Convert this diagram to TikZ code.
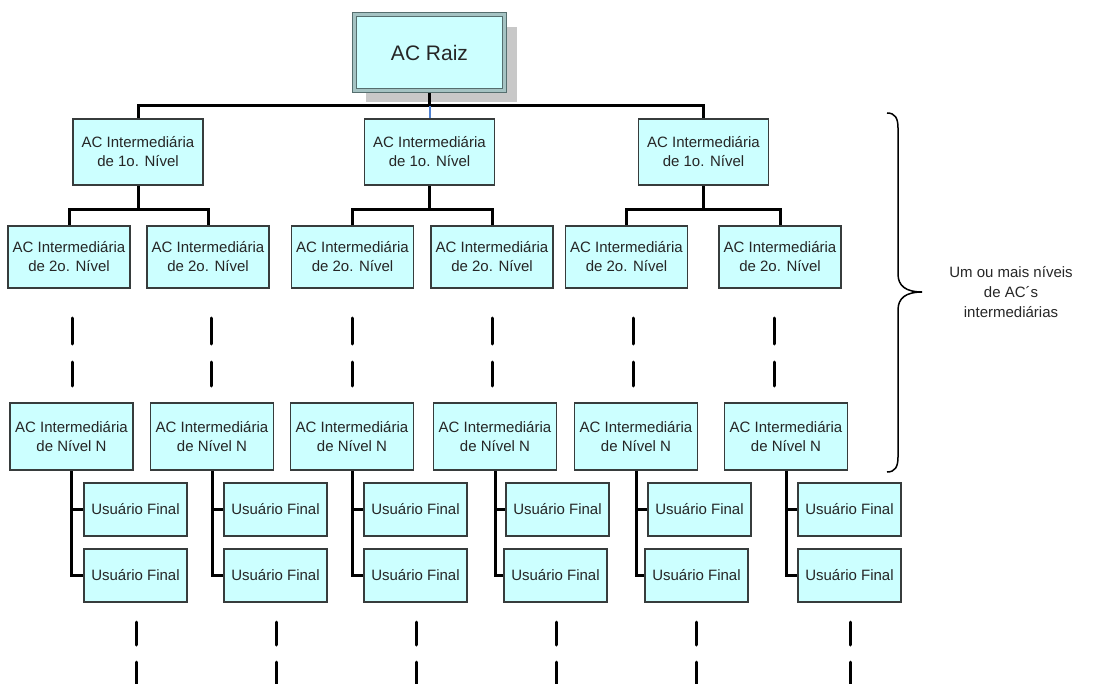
\documentclass[tikz,border=0pt]{standalone}
\usepackage{fontspec}
\setmainfont{Liberation Sans}
\usepackage{tikz}
\pgfdeclarelayer{bg}
\pgfsetlayers{bg,main}
\definecolor{boxfill}{RGB}{204,255,255}
\definecolor{boxline}{RGB}{55,60,60}
\definecolor{rootline}{RGB}{85,110,110}
\definecolor{rootgap}{RGB}{165,195,195}
\definecolor{shadowgray}{RGB}{200,200,200}
\definecolor{bluelink}{RGB}{80,130,210}
\tikzset{
    acbox/.style={rectangle, draw=boxline, fill=boxfill, line width=1.4pt, inner sep=0pt,
        align=center, text=black!85, font=\fontsize{15}{19}\selectfont},
    rootbox/.style={acbox, draw=rootline, double=rootgap, double distance=2.4pt, line width=1.2pt,
        minimum width=150pt, minimum height=76pt, font=\fontsize{21}{25}\selectfont},
    firstbox/.style={acbox, minimum width=130pt, minimum height=66pt},
    secondbox/.style={acbox, minimum width=122pt, minimum height=62pt},
    lastbox/.style={acbox, minimum width=123pt, minimum height=67pt},
    userbox/.style={acbox, minimum width=103pt, minimum height=53pt},
    link/.style={line width=3pt},
    gapline/.style={line width=3pt, line cap=round}
}

\begin{document}
\begin{tikzpicture}[x=1pt, y=-1pt]
        \useasboundingbox (0,0) rectangle (1099,684);
        % root
        \node (root) [rootbox] at (429.5, 52.5) {AC Raiz};
        \coordinate (bus) at (429.5, 106);
        % first level
        \node (a1) [firstbox] at (138, 152) {AC Intermediária\\de 1o. Nível};
        \node (a2) [firstbox] at (429.5, 152) {AC Intermediária\\de 1o. Nível};
        \node (a3) [firstbox] at (703.5, 152) {AC Intermediária\\de 1o. Nível};
        % second level
        \node (b11) [secondbox] at (69, 257) {AC Intermediária\\de 2o. Nível};
        \node (b12) [secondbox] at (208, 257) {AC Intermediária\\de 2o. Nível};
        \node (b21) [secondbox] at (352.5, 257) {AC Intermediária\\de 2o. Nível};
        \node (b22) [secondbox] at (492, 257) {AC Intermediária\\de 2o. Nível};
        \node (b31) [secondbox] at (626.5, 257) {AC Intermediária\\de 2o. Nível};
        \node (b32) [secondbox] at (780, 257) {AC Intermediária\\de 2o. Nível};
        % level N
        \node (n1) [lastbox] at (71.5, 436.5) {AC Intermediária\\de Nível N};
        \node (n2) [lastbox] at (212, 436.5) {AC Intermediária\\de Nível N};
        \node (n3) [lastbox] at (352, 436.5) {AC Intermediária\\de Nível N};
        \node (n4) [lastbox] at (495, 436.5) {AC Intermediária\\de Nível N};
        \node (n5) [lastbox] at (636, 436.5) {AC Intermediária\\de Nível N};
        \node (n6) [lastbox] at (786, 436.5) {AC Intermediária\\de Nível N};
        % end users
        \node (u1a) [userbox] at (135.5, 509.5) {Usuário Final};
        \node (u1b) [userbox] at (135.5, 575.5) {Usuário Final};
        \node (u2a) [userbox] at (275.5, 509.5) {Usuário Final};
        \node (u2b) [userbox] at (275.5, 575.5) {Usuário Final};
        \node (u3a) [userbox] at (415.5, 509.5) {Usuário Final};
        \node (u3b) [userbox] at (415.5, 575.5) {Usuário Final};
        \node (u4a) [userbox] at (557.5, 509.5) {Usuário Final};
        \node (u4b) [userbox] at (555.5, 575.5) {Usuário Final};
        \node (u5a) [userbox] at (699.5, 509.5) {Usuário Final};
        \node (u5b) [userbox] at (696.5, 575.5) {Usuário Final};
        \node (u6a) [userbox] at (849.5, 509.5) {Usuário Final};
        \node (u6b) [userbox] at (849.5, 575.5) {Usuário Final};
        % brace and its text
        \draw [line width=1.5pt] (887,113) .. controls (895,113) and (898,118) .. (898,128)
            -- (898,274) .. controls (898,286) and (906,292) .. (922,292)
            .. controls (906,292) and (898,298) .. (898,310)
            -- (898,457) .. controls (898,467) and (895,472) .. (887,472);
        \node (levels) [align=center, text=black!85, font=\fontsize{15}{20}\selectfont]
            at (1011, 292) {Um ou mais níveis\\de AC´s\\intermediárias};
        \begin{pgfonlayer}{bg}
                \fill [shadowgray] ([shift={(12,13)}]root.north west) rectangle ([shift={(12,11)}]root.south east);
                \draw [link] (root) -- (bus);
                \draw [link] (a1.north) |- (bus) -| (a3.north);
                \draw [link, bluelink, line width=2pt] (bus) -- (a2.north);
                \draw [link] (a1.south) -- ++(0,24) -| (b11.north);
                \draw [link] (a1.south) ++(0,24) -| (b12.north);
                \draw [link] (a2.south) -- ++(0,24) -| (b21.north);
                \draw [link] (a2.south) ++(0,24) -| (b22.north);
                \draw [link] (a3.south) -- ++(0,24) -| (b31.north);
                \draw [link] (a3.south) ++(0,24) -| (b32.north);
                \draw [link] (n1.south) |- (u1b.west);
                \draw [link] (n1.south |- u1a.west) -- (u1a.west);
                \draw [link] (n2.south) |- (u2b.west);
                \draw [link] (n2.south |- u2a.west) -- (u2a.west);
                \draw [link] (n3.south) |- (u3b.west);
                \draw [link] (n3.south |- u3a.west) -- (u3a.west);
                \draw [link] (n4.south) |- (u4b.west);
                \draw [link] (n4.south |- u4a.west) -- (u4a.west);
                \draw [link] (n5.south) |- (u5b.west);
                \draw [link] (n5.south |- u5a.west) -- (u5a.west);
                \draw [link] (n6.south) |- (u6b.west);
                \draw [link] (n6.south |- u6a.west) -- (u6a.west);
        \end{pgfonlayer}
        % gaps between levels
        \draw [gapline] (72,318) -- (72,344) (72,362) -- (72,386);
        \draw [gapline] (211,318) -- (211,344) (211,362) -- (211,386);
        \draw [gapline] (352,318) -- (352,344) (352,362) -- (352,386);
        \draw [gapline] (492,318) -- (492,344) (492,362) -- (492,386);
        \draw [gapline] (633,318) -- (633,344) (633,362) -- (633,386);
        \draw [gapline] (774,318) -- (774,344) (774,362) -- (774,386);
        \draw [gapline] (136,622) -- (136,645) (136,662) -- (136,690);
        \draw [gapline] (276,622) -- (276,645) (276,662) -- (276,690);
        \draw [gapline] (416,622) -- (416,645) (416,662) -- (416,690);
        \draw [gapline] (556,622) -- (556,645) (556,662) -- (556,690);
        \draw [gapline] (696,622) -- (696,645) (696,662) -- (696,690);
        \draw [gapline] (850,622) -- (850,645) (850,662) -- (850,690);
\end{tikzpicture}
\end{document}
